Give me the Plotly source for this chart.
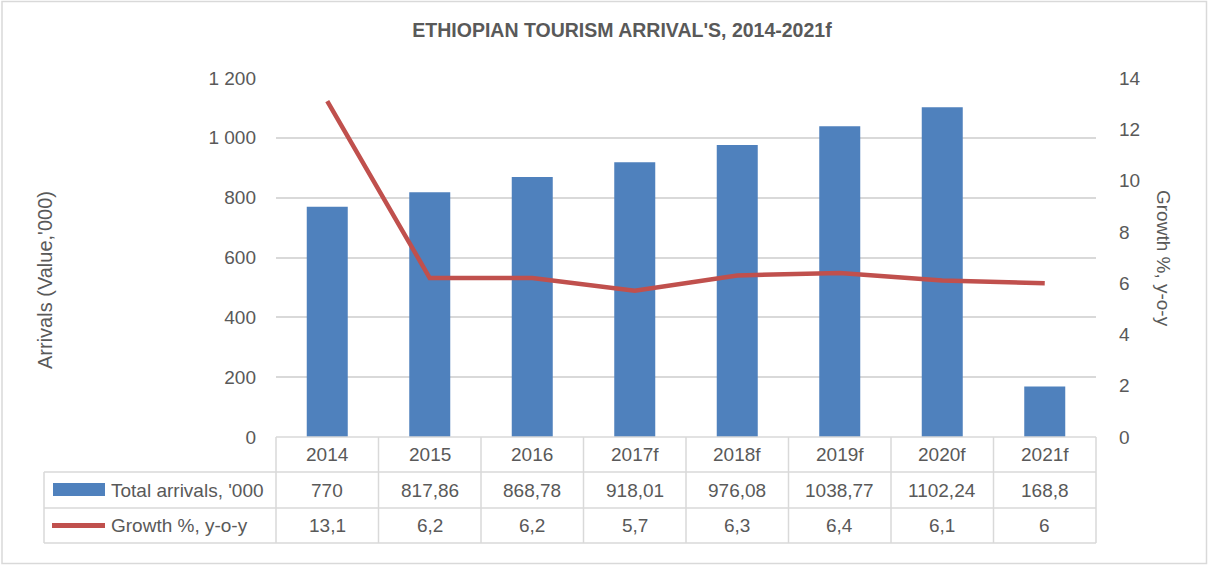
import plotly.graph_objects as go

# Data
years = ["2014", "2015", "2016", "2017f", "2018f", "2019f", "2020f", "2021f"]
arrivals = [770, 817.86, 868.78, 918.01, 976.08, 1038.77, 1102.24, 168.8]
growth = [13.1, 6.2, 6.2, 5.7, 6.3, 6.4, 6.1, 6]
series_names = ["Total arrivals, '000", "Growth %, y-o-y"]

BAR_COLOR = "#4F81BD"
LINE_COLOR = "#C0504D"
TEXT_COLOR = "#595959"
GRID_COLOR = "#D9D9D9"
FONT = "Liberation Sans, Arial, sans-serif"

W, H = 1208, 565
L, R, T, B = 276, 1096, 78, 437  # plot area in pixels
PW, PH = R - L, B - T


def px(x):
    return (x - L) / PW


def py(y):
    return (B - y) / PH


def fmt(v):
    return f"{v:g}".replace(".", ",")


fig = go.Figure()
fig.add_trace(go.Bar(
    x=years, y=arrivals, name=series_names[0],
    marker=dict(color=BAR_COLOR, line=dict(width=0)),
))
fig.add_trace(go.Scatter(
    x=years, y=growth, name=series_names[1], yaxis="y2",
    mode="lines", line=dict(color=LINE_COLOR, width=4.5),
))

shapes = []
row_y = [437, 472, 508, 543]
# Table grid under the plot
for k in range(len(years) + 1):
    xx = px(L + k * PW / len(years))
    shapes.append(dict(type="line", xref="paper", yref="paper",
                       x0=xx, x1=xx, y0=py(row_y[0]), y1=py(row_y[-1]),
                       line=dict(color=GRID_COLOR, width=1.5)))
shapes.append(dict(type="line", xref="paper", yref="paper",
                   x0=px(44), x1=px(44), y0=py(row_y[1]), y1=py(row_y[-1]),
                   line=dict(color=GRID_COLOR, width=1.5)))
shapes.append(dict(type="line", xref="paper", yref="paper",
                   x0=px(L), x1=px(R), y0=py(row_y[0]), y1=py(row_y[0]),
                   line=dict(color=GRID_COLOR, width=1.5)))
for yy in row_y[1:]:
    shapes.append(dict(type="line", xref="paper", yref="paper",
                       x0=px(44), x1=px(R), y0=py(yy), y1=py(yy),
                       line=dict(color=GRID_COLOR, width=1.5)))
# Legend keys inside the table
shapes.append(dict(type="rect", xref="paper", yref="paper",
                   x0=px(53), x1=px(105), y0=py(483), y1=py(496),
                   fillcolor=BAR_COLOR, line=dict(width=0)))
shapes.append(dict(type="line", xref="paper", yref="paper",
                   x0=px(52), x1=px(105), y0=py(525.5), y1=py(525.5),
                   line=dict(color=LINE_COLOR, width=5)))
# Chart border
shapes.append(dict(type="rect", xref="paper", yref="paper",
                   x0=px(2), x1=px(1206.5), y0=py(1.5), y1=py(563.5),
                   line=dict(color=GRID_COLOR, width=1.5)))

annotations = []
cell_font = dict(size=19, color=TEXT_COLOR, family=FONT)
row_centers = [(row_y[1] + row_y[2]) / 2, (row_y[2] + row_y[3]) / 2]
for name, rc in zip(series_names, row_centers):
    annotations.append(dict(xref="paper", yref="paper", x=px(109), y=py(rc),
                            text=name, showarrow=False, xanchor="left",
                            yanchor="middle", font=cell_font))
for vals, rc in zip([arrivals, growth], row_centers):
    for i, v in enumerate(vals):
        annotations.append(dict(xref="x", yref="paper", x=i, y=py(rc),
                                text=fmt(v), showarrow=False, xanchor="center",
                                yanchor="middle", font=cell_font))
for i, cat in enumerate(years):
    annotations.append(dict(xref="x", yref="paper", x=i,
                            y=py((row_y[0] + row_y[1]) / 2),
                            text=cat, showarrow=False, xanchor="center",
                            yanchor="middle", font=cell_font))
# Axis titles
annotations.append(dict(xref="paper", yref="paper", x=px(45), y=py(280),
                        text="Arrivals (Value,'000)", showarrow=False,
                        textangle=-90, xanchor="center", yanchor="middle",
                        font=dict(size=20, color=TEXT_COLOR, family=FONT)))
annotations.append(dict(xref="paper", yref="paper", x=px(1164), y=py(258),
                        text="Growth %, y-o-y", showarrow=False,
                        textangle=90, xanchor="center", yanchor="middle",
                        font=dict(size=19, color=TEXT_COLOR, family=FONT)))

fig.update_layout(
    width=W, height=H,
    margin=dict(l=L, r=W - R, t=T, b=H - B, pad=0),
    paper_bgcolor="white", plot_bgcolor="white",
    separators=", ",
    showlegend=False,
    bargap=0.6,
    font=dict(family=FONT, color=TEXT_COLOR, size=19),
    title=dict(text="<b>ETHIOPIAN TOURISM ARRIVAL'S, 2014-2021f</b>",
               x=622 / W, xanchor="center", xref="container",
               y=1 - 30 / H, yanchor="middle", yref="container",
               font=dict(size=19.5, color=TEXT_COLOR, family=FONT)),
    xaxis=dict(type="category", categoryorder="array", categoryarray=years,
               range=[-0.5, len(years) - 0.5],
               showticklabels=False, showgrid=False,
               showline=False, zeroline=False, ticks=""),
    yaxis=dict(range=[0, 1200], dtick=200, tickformat=",d",
               showgrid=True, gridcolor=GRID_COLOR, gridwidth=1.5,
               zeroline=False, showline=False, ticks="",
               ticklabelstandoff=19,
               tickfont=dict(size=19, color=TEXT_COLOR)),
    yaxis2=dict(range=[0, 14], dtick=2, overlaying="y", side="right",
                showgrid=False, zeroline=False, showline=False, ticks="",
                ticklabelstandoff=22,
                tickfont=dict(size=19, color=TEXT_COLOR)),
    shapes=shapes,
    annotations=annotations,
)

fig.write_html("out.html")
